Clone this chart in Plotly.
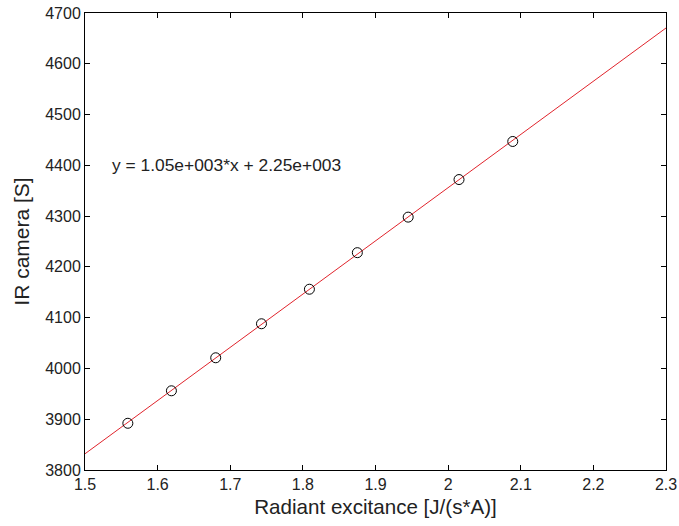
import numpy as np
import plotly.graph_objects as go

# Data
radiant_excitance = [1.559, 1.619, 1.680, 1.743, 1.809, 1.875, 1.945, 2.015, 2.089]
ir_camera = [3892, 3956, 4021, 4088, 4156, 4228, 4298, 4372, 4447]

x_range = [1.5, 2.3]
y_range = [3800, 4700]
x_ticks = [1.5, 1.6, 1.7, 1.8, 1.9, 2.0, 2.1, 2.2, 2.3]
x_tick_labels = ["1.5", "1.6", "1.7", "1.8", "1.9", "2", "2.1", "2.2", "2.3"]
y_ticks = [3800, 3900, 4000, 4100, 4200, 4300, 4400, 4500, 4600, 4700]

equation_text = "y = 1.05e+003*x + 2.25e+003"

# Linear fit (line drawn across the full x range)
slope, intercept = np.polyfit(radiant_excitance, ir_camera, 1)
fit_x = np.array(x_range)
fit_y = slope * fit_x + intercept

FONT = "Liberation Sans, Arial, Helvetica, sans-serif"

fig = go.Figure()
fig.add_trace(go.Scatter(
    x=fit_x, y=fit_y, mode="lines",
    line=dict(color="#e0242c", width=1),
    showlegend=False, hoverinfo="skip",
))
fig.add_trace(go.Scatter(
    x=radiant_excitance, y=ir_camera, mode="markers",
    marker=dict(symbol="circle-open", size=10, color="black",
                line=dict(color="black", width=1)),
    showlegend=False,
))

fig.add_annotation(
    x=1.534, y=4400, xref="x", yref="y", text=equation_text,
    showarrow=False, xanchor="left", yanchor="middle",
    font=dict(family=FONT, size=17.4, color="#222"),
)

axis_common = dict(
    showgrid=False, zeroline=False, showline=True, linecolor="black",
    linewidth=1, mirror="ticks", ticks="inside", ticklen=5,
    tickcolor="black", tickwidth=1, automargin=False,
    tickfont=dict(family=FONT, size=16, color="#222"),
)

fig.update_xaxes(
    range=x_range, tickvals=x_ticks, ticktext=x_tick_labels,
    title=dict(text="Radiant excitance [J/(s*A)]",
               font=dict(family=FONT, size=20.6, color="#222"), standoff=7),
    **axis_common,
)
fig.update_yaxes(
    range=y_range, tickvals=y_ticks,
    title=dict(text="IR camera [S]",
               font=dict(family=FONT, size=21, color="#222"), standoff=9),
    **axis_common,
)

fig.update_layout(
    width=679, height=526,
    margin=dict(l=85, r=13, t=13, b=56),
    paper_bgcolor="white", plot_bgcolor="white",
)

fig.write_html(
    "out.html",
    config={"displayModeBar": False},
    post_script="document.body.style.margin='0';document.body.style.overflow='hidden';",
)
